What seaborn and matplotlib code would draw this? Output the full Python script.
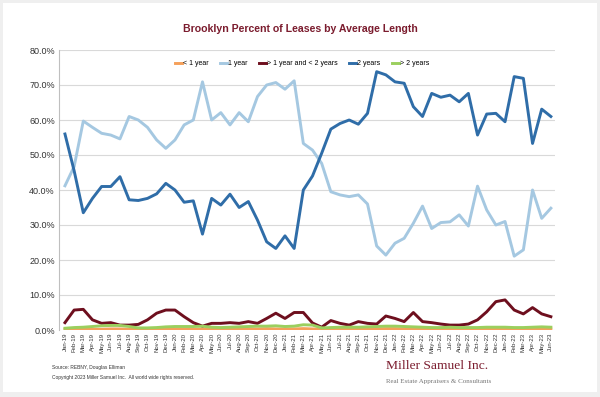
import seaborn as sns
import matplotlib.pyplot as plt
import matplotlib.patches as mpatches
import pandas as pd

# Monthly share of Brooklyn leases by length (%), Jan-19 .. Jun-23
months = pd.date_range('2019-01-01', periods=54, freq='MS').strftime('%b-%y').tolist()

under_1 = [0.2, 0.3, 0.3, 0.2, 0.2, 0.3, 0.3, 0.2, 0.2, 0.2, 0.3, 0.3,
           0.3, 0.2, 0.2, 0.3, 0.3, 0.2, 0.2, 0.3, 0.3, 0.3, 0.4, 0.3,
           0.3, 0.3, 0.4, 0.3, 0.2, 0.2, 0.3, 0.3, 0.3, 0.3, 0.3, 0.4,
           0.4, 0.3, 0.3, 0.3, 0.3, 0.2, 0.2, 0.2, 0.3, 0.3, 0.3, 0.3,
           0.3, 0.3, 0.2, 0.2, 0.3, 0.3]
one_year = [41.2, 46.7, 59.7, 57.9, 56.2, 55.7, 54.6, 61.0, 60.0, 57.9, 54.3, 51.9,
            54.3, 58.6, 60.0, 70.9, 60.0, 62.1, 58.6, 62.1, 59.5, 66.7, 70.0, 70.7,
            68.8, 71.2, 53.3, 51.4, 47.6, 39.5, 38.6, 38.1, 38.6, 36.0, 24.0, 21.4,
            24.8, 26.2, 30.5, 35.4, 29.0, 30.7, 30.9, 32.9, 29.7, 41.1, 34.3, 30.0,
            31.0, 21.1, 22.9, 40.0, 31.9, 34.8]
one_to_two = [2.1, 5.7, 5.9, 2.9, 1.9, 2.1, 1.4, 1.4, 1.6, 2.9, 4.8, 5.7,
              5.7, 3.8, 2.1, 1.1, 1.9, 1.9, 2.1, 1.9, 2.4, 1.9, 3.3, 4.8,
              3.3, 5.0, 5.0, 2.0, 0.8, 2.7, 1.9, 1.4, 2.4, 1.9, 1.7, 4.0,
              3.3, 2.4, 5.0, 2.4, 2.1, 1.7, 1.4, 1.4, 1.7, 2.9, 5.2, 8.1,
              8.6, 5.7, 4.6, 6.4, 4.6, 3.8]
two_years = [56.0, 45.5, 33.5, 37.6, 41.0, 41.0, 43.8, 37.2, 37.0, 37.6, 38.9, 41.9,
             40.0, 36.5, 36.9, 27.4, 37.6, 35.7, 38.8, 35.0, 36.7, 31.4, 25.2, 23.3,
             26.9, 23.3, 40.0, 44.0, 50.5, 57.4, 59.0, 60.0, 58.8, 61.9, 73.8, 72.9,
             70.9, 70.5, 63.8, 61.0, 67.6, 66.5, 67.1, 65.2, 67.6, 55.7, 61.7, 61.9,
             59.5, 72.4, 71.9, 53.3, 63.1, 61.0]
over_2 = [0.5, 0.7, 0.8, 1.0, 1.2, 1.3, 1.3, 1.0, 0.6, 0.6, 0.7, 0.9,
          1.0, 1.0, 1.0, 1.1, 0.8, 0.7, 0.8, 0.9, 1.0, 1.1, 1.1, 1.2,
          1.0, 1.1, 1.5, 1.4, 0.6, 0.7, 0.8, 0.8, 0.8, 0.9, 1.0, 1.1,
          1.1, 1.0, 0.9, 0.8, 0.7, 0.7, 0.8, 0.7, 0.7, 0.7, 0.8, 0.8,
          0.8, 0.7, 0.7, 0.8, 0.9, 0.8]

series = {
    '< 1 year': under_1,
    '1 year': one_year,
    '> 1 year and < 2 years': one_to_two,
    '2 years': two_years,
    '> 2 years': over_2,
}
colors = ['#F5A05A', '#A5C8E1', '#6E0F1E', '#2F6DA8', '#9BCF5E']

df = pd.concat([pd.DataFrame({'Month': months, 'Share': v, 'Type': k})
                for k, v in series.items()], ignore_index=True)

plt.rcParams['font.family'] = ['Liberation Sans', 'DejaVu Sans']

fig = plt.figure(figsize=(6, 3.97), dpi=100)
fig.patch.set_facecolor('#EFEFEF')
fig.patches.append(mpatches.Rectangle((3 / 600, 5 / 397), 594 / 600, 389 / 397,
                                      transform=fig.transFigure, facecolor='white',
                                      edgecolor='none', zorder=-10))

ax = fig.add_axes([59 / 600, 1 - 330 / 397, 496 / 600, 280 / 397])
ax.set_facecolor('white')

sns.lineplot(data=df, x='Month', y='Share', hue='Type', palette=colors,
             sort=False, linewidth=2.1, ax=ax)

ax.set_ylim(0, 80)
ax.set_xlim(-0.65, 53.45)
ax.set_yticks(range(0, 81, 10))
ax.set_yticklabels([f'{v:.1f}%' for v in range(0, 81, 10)], fontsize=6.5, color='#333333')
ax.set_xticks(range(len(months)))
ax.set_xticklabels(months, rotation=90, fontsize=4.3, color='#333333')
ax.tick_params(axis='both', length=0, pad=3)
ax.tick_params(axis='x', pad=2)
ax.grid(axis='y', color='#D9D9D9', linewidth=0.8)
ax.set_axisbelow(True)
ax.set_xlabel('')
ax.set_ylabel('')
for s in ['top', 'right', 'bottom']:
    ax.spines[s].set_visible(False)
ax.spines['left'].set_color('#BFBFBF')
ax.spines['left'].set_linewidth(0.8)

ax.legend(loc='upper center', bbox_to_anchor=(0.49, 0.985), ncol=5, frameon=False,
          fontsize=5, handlelength=1.0, handletextpad=0.2, columnspacing=1.6)

fig.text(0.5, 1 - 29 / 397, 'Brooklyn Percent of Leases by Average Length',
         ha='center', va='center', fontsize=7.6, fontweight='bold', color='#7B1C2E')

fig.text(52 / 600, 1 - 367 / 397, 'Source: REBNY, Douglas Elliman',
         fontsize=3.5, color='#333333', va='center')
fig.text(52 / 600, 1 - 378 / 397, 'Copyright 2023 Miller Samuel Inc.  All world wide rights reserved.',
         fontsize=3.5, color='#333333', va='center')
fig.text(386 / 600, 1 - 366 / 397, 'Miller Samuel Inc.', fontsize=9.7,
         family=['Liberation Serif', 'DejaVu Serif'], color='#7B1C2E', va='center')
fig.text(386 / 600, 1 - 381 / 397, 'Real Estate Appraisers & Consultants', fontsize=5,
         family=['Liberation Serif', 'DejaVu Serif'], color='#777777', va='center')

fig.savefig('out.png', dpi=100, facecolor=fig.get_facecolor())
